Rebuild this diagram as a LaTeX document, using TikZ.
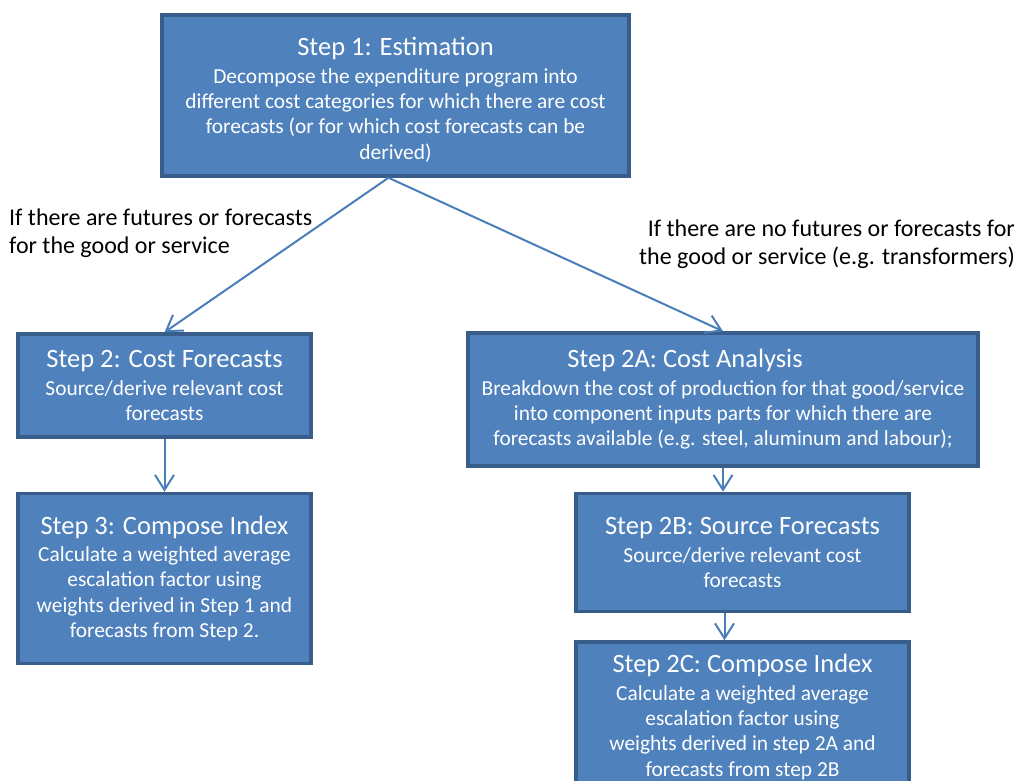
\documentclass[tikz,border=0pt]{standalone}
\usepackage{fontspec}
\setmainfont{Carlito}
\usepackage{tikz}
\usetikzlibrary{positioning}
\usetikzlibrary{arrows.meta}
\definecolor{boxfill}{RGB}{79,129,189}
\definecolor{boxline}{RGB}{56,93,138}
\definecolor{flowline}{RGB}{74,126,187}
\tikzset{step box/.style={rectangle,fill=boxfill,draw=boxline,line width=3.5pt,text=white,align=center,inner sep=0pt,font=\fontsize{21.4}{25.3}\selectfont},
         branch text/.style={inner sep=0pt,font=\fontsize{24}{28}\selectfont},
         flow/.style={->,draw=flowline,line width=2pt},}
\newcommand{\steptitle}[1]{{\fontsize{26.5}{30}\selectfont #1}}

\begin{document}
\begin{tikzpicture}[x=1pt, y=1pt, >={Straight Barb[length=15pt,width=19pt]}]
		\useasboundingbox (0,0) rectangle (1019,-780);
		\node[step box, minimum width=467pt, minimum height=161pt] (s1) at (395.5,-95.5) {\rule{0pt}{27pt}\steptitle{Step 1: Estimation}\\[2pt]Decompose the expenditure program into\\different cost categories for which there are cost\\forecasts (or for which cost forecasts can be\\derived)};
	    \node[step box, minimum width=293pt, minimum height=103pt] (s2) at (164.5,-385.5) {\steptitle{Step 2: Cost Forecasts}\\[2pt]Source/derive relevant cost\\forecasts};
	    \node[step box, minimum width=293pt, minimum height=170pt] (s3) [below=53pt of s2] {\steptitle{Step 3: Compose Index}\\[2pt]Calculate a weighted average\\escalation factor using\\weights derived in Step 1 and\\forecasts from Step 2.};
	    \node[step box, minimum width=510pt, minimum height=133pt] (s2a) at (723,-399.5) {\steptitle{Step 2A: Cost Analysis}\hspace*{76pt}\\[2pt]Breakdown the cost of production for that good/service\\into component inputs parts for which there are\\forecasts available (e.g. steel, aluminum and labour);};
	    \node[step box, minimum width=333pt, minimum height=118pt] (s2b) [below=24pt of s2a, xshift=19.5pt] {\steptitle{Step 2B: Source Forecasts}\\[2pt]Source/derive relevant cost\\forecasts};
	    \node[step box, minimum width=333pt, minimum height=150pt] (s2c) [below=27pt of s2b] {\steptitle{Step 2C: Compose Index}\\[2pt]Calculate a weighted average\\escalation factor using\\weights derived in step 2A and\\forecasts from step 2B};
	
	    % branch labels
	    \node[branch text, anchor=north west, align=left] (yes) at (9,-209) {If there are futures or forecasts\\for the good or service};
	    \node[branch text, anchor=north east, align=right] (no) at (1015,-220) {If there are no futures or forecasts for\\the good or service (e.g. transformers)};
	
	    \path
	    ([xshift=-7pt]s1.south) edge[flow] (s2.north)
	    ([xshift=-7pt]s1.south) edge[flow] (s2a.north)
	    (s2.south) edge[flow] (s3.north)
	    (s2a.south) edge[flow] (s2a.south |- s2b.north)
	    ([xshift=-18pt]s2b.south) edge[flow] ([xshift=-18pt]s2c.north);
	\end{tikzpicture}
\end{document}
